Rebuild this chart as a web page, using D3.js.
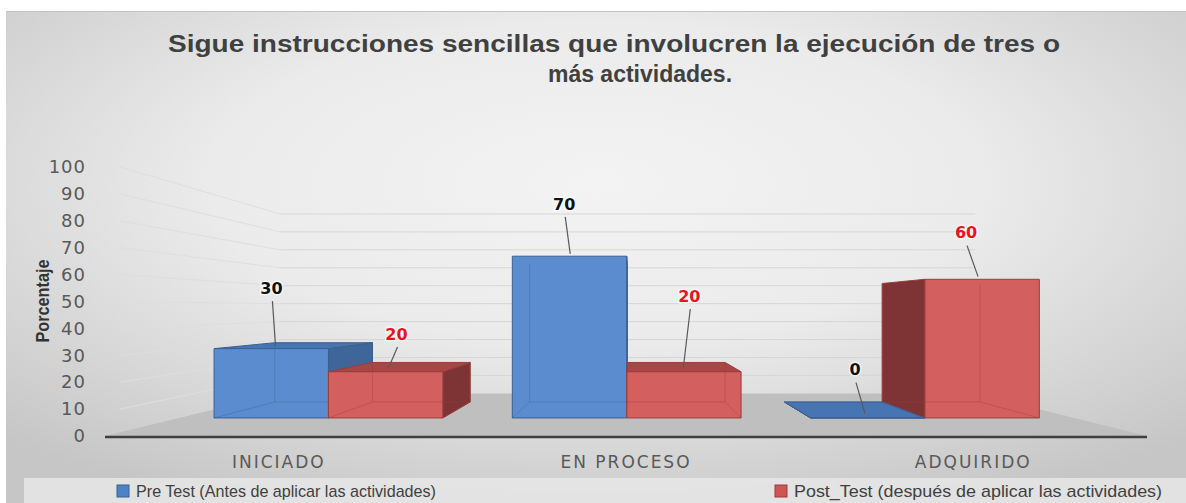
<!DOCTYPE html>
<html>
<head>
<meta charset="utf-8">
<script src="https://cdn.jsdelivr.net/npm/d3@7"></script>
<style>
  body{ margin: 0; background: #ffffff; }
  svg{ display: block; }
</style>
</head>
<body>
<div id="chart"></div>
<script>

// Chart data.
const categories = [ 'INICIADO', 'EN PROCESO', 'ADQUIRIDO' ];
const series_keys = [ 'pre', 'post' ];
const series_names = [ 'Pre Test (Antes de aplicar las actividades)', 'Post_Test (después de aplicar las actividades)' ];
const pre_test = [ 30, 70, 0 ];
const post_test = [ 20, 20, 60 ];
const y_ticks = [ 0, 10, 20, 30, 40, 50, 60, 70, 80, 90, 100 ];
const title_lines = [ 'Sigue instrucciones sencillas que involucren la ejecución de tres o', 'más actividades.' ];
const y_axis_title = 'Porcentaje';

const DEFAULTS = {
  width: 1186,
  height: 503,
  // Front edge of the floor, in screen pixels.
  floor_left: 105,
  floor_right: 1147,
  floor_y: 436,
  top_y: 167,
  // Single vanishing point of the perspective view.
  vanish: { x: 631, y: 308 },
  // Depths as a fraction of the way towards the vanishing point.
  bar_front: 0.141,
  bar_back: 0.266,
  wall_depth: 0.333,
  colors: {
    pre:  { front: '#5b8cd0', top: '#4774b3', side: '#3e6698', stroke: '#3b5f90', label: '#111111', key: '#4f81c7' },
    post: { front: '#d35f5f', top: '#a84646', side: '#7e3434', stroke: '#9a3d3d', label: '#e8141c', key: '#cf5555' }
  },
  // Where Excel left the data labels, relative to the top of each bar.
  label_offsets: {
    pre:  [ [ -4, -60 ], [ -6, -53 ], [ -10, -47 ] ],
    post: [ [ 8, -37 ], [ 6, -75 ], [ -12, -47 ] ]
  },
  legend_x: [ 117, 775 ],
  legend_y: 491,
  legend_text_width: [ 300, 368 ],
  font: '"DejaVu Sans", Verdana, sans-serif',
  title_font: '"Liberation Sans", Arial, sans-serif'
};


class Bar3dChart{

  constructor( elem_id, options ){
    this.elem_id = elem_id;
    this.settings = Object.assign( {}, DEFAULTS );
    this.settings = Object.assign( this.settings, options );
    var s = this.settings;

    // One entry per bar: category x series.
    var _this = this;
    this.bars = [];
    categories.forEach( function( c, i ){
      _this.bars.push( { category: c, index: i, key: 'pre', value: pre_test[i] } );
      _this.bars.push( { category: c, index: i, key: 'post', value: post_test[i] } );
    } );

    this.x_scale = d3.scaleBand()
      .domain( categories )
      .range( [ s.floor_left, s.floor_right ] )
      .paddingInner( 0.233 )
      .paddingOuter( 0.117 );
    this.x_sub = d3.scaleBand()
      .domain( series_keys )
      .range( [ 0, this.x_scale.bandwidth() ] );
    this.y_scale = d3.scaleLinear()
      .domain( [ 0, 100 ] )
      .range( [ s.floor_y, s.top_y ] );

    this.svg = d3.select( '#' + this.elem_id )
      .append( 'svg' )
        .attr( 'width', s.width )
        .attr( 'height', s.height );

    this.render_background();
    this.render_walls();
    this.render_axes();
    this.render_bars();
    this.render_data_labels();
    this.render_titles();
    this.render_legend();
  }


  // Move a front-plane point (x, value) a fraction t towards the vanishing point.
  project( x, v, t ){
    var vp = this.settings.vanish;
    var y = this.y_scale( v );
    return [ x + t * ( vp.x - x ), y + t * ( vp.y - y ) ];
  }


  render_background(){
    var defs = this.svg.append( 'defs' );
    var grad = defs.append( 'radialGradient' )
      .attr( 'id', 'bg_grad' )
      .attr( 'cx', '50%' ).attr( 'cy', '35%' ).attr( 'r', '72%' );
    grad.append( 'stop' ).attr( 'offset', '0%' ).attr( 'stop-color', '#f3f3f3' );
    grad.append( 'stop' ).attr( 'offset', '45%' ).attr( 'stop-color', '#ebebeb' );
    grad.append( 'stop' ).attr( 'offset', '100%' ).attr( 'stop-color', '#c6c6c6' );

    this.svg.append( 'rect' )
      .attr( 'x', 6 ).attr( 'y', 11 )
      .attr( 'width', this.settings.width - 6 )
      .attr( 'height', this.settings.height - 11 )
      .attr( 'fill', 'url(#bg_grad)' );
    this.svg.append( 'line' )
      .attr( 'x1', 6 ).attr( 'x2', this.settings.width )
      .attr( 'y1', 11.5 ).attr( 'y2', 11.5 )
      .attr( 'stroke', '#c4c4c4' );
  }


  render_walls(){
    var s = this.settings;
    var _this = this;
    var d = s.wall_depth;

    // Floor.
    var floor = [
      this.project( s.floor_left, 0, 0 ),
      this.project( s.floor_right, 0, 0 ),
      this.project( s.floor_right, 0, d ),
      this.project( s.floor_left, 0, d )
    ];
    this.svg.append( 'polygon' )
      .attr( 'points', floor.map( function( p ){ return p.join( ',' ) } ).join( ' ' ) )
      .attr( 'fill', '#bfbfbf' );

    var grid_values = y_ticks.filter( function( v ){ return v > 0 } );

    // Side wall gridlines: from the front left edge to the back wall.
    this.svg.append( 'g' )
      .selectAll( 'line' )
      .data( grid_values )
      .enter().append( 'line' )
        .attr( 'x1', function( v ){ return _this.project( s.floor_left + 15, v, 0 )[0] } )
        .attr( 'y1', function( v ){ return _this.project( s.floor_left + 15, v, 0 )[1] } )
        .attr( 'x2', function( v ){ return _this.project( s.floor_left, v, d )[0] } )
        .attr( 'y2', function( v ){ return _this.project( s.floor_left, v, d )[1] } )
        .attr( 'stroke', '#dedede' )
        .attr( 'stroke-width', 1 );

    // Back wall gridlines.
    this.svg.append( 'g' )
      .selectAll( 'line' )
      .data( grid_values )
      .enter().append( 'line' )
        .attr( 'x1', function( v ){ return _this.project( s.floor_left, v, d )[0] } )
        .attr( 'y1', function( v ){ return _this.project( s.floor_left, v, d )[1] } )
        .attr( 'x2', function( v ){ return _this.project( s.floor_right, v, d )[0] } )
        .attr( 'y2', function( v ){ return _this.project( s.floor_right, v, d )[1] } )
        .attr( 'stroke', '#d6d6d6' )
        .attr( 'stroke-width', 1 );
  }


  render_axes(){
    var s = this.settings;
    var _this = this;

    // Y axis, ticks only.
    var y_axis = this.svg.append( 'g' )
      .attr( 'transform', 'translate(86,0)' )
      .call( d3.axisLeft( this.y_scale ).tickValues( y_ticks ).tickSize( 0 ).tickPadding( 0 ) );
    y_axis.select( '.domain' ).remove();
    y_axis.selectAll( 'text' )
      .attr( 'fill', '#595959' )
      .attr( 'style', 'font-family:' + s.font + '; font-size:18px; letter-spacing:1px' );

    // Front edge of the floor.
    this.svg.append( 'line' )
      .attr( 'x1', s.floor_left ).attr( 'x2', s.floor_right )
      .attr( 'y1', s.floor_y + 1 ).attr( 'y2', s.floor_y + 1 )
      .attr( 'stroke', '#3f3f3f' )
      .attr( 'stroke-width', 2.5 );

    // Category labels.
    this.svg.append( 'g' )
      .selectAll( 'text' )
      .data( categories )
      .enter().append( 'text' )
        .attr( 'x', function( c ){ return _this.x_scale( c ) + _this.x_scale.bandwidth() / 2 } )
        .attr( 'y', s.floor_y + 32 )
        .attr( 'text-anchor', 'middle' )
        .attr( 'fill', '#595959' )
        .attr( 'style', 'font-family:' + s.font + '; font-size:17px; letter-spacing:2px' )
        .text( function( c ){ return c } );

    // Y axis title.
    this.svg.append( 'g' )
      .attr( 'transform', 'translate(49,301)' )
      .append( 'text' )
        .attr( 'transform', 'rotate(-90)' )
        .attr( 'text-anchor', 'middle' )
        .attr( 'textLength', 83 )
        .attr( 'lengthAdjust', 'spacingAndGlyphs' )
        .attr( 'fill', '#333333' )
        .attr( 'style', 'font-family:"Liberation Sans Narrow", "Liberation Sans", sans-serif; font-size:18px; font-weight:bold' )
        .text( y_axis_title );
  }


  // Polygons of one bar, in painting order.
  bar_faces( d ){
    var s = this.settings;
    var vp = s.vanish;
    var x0 = this.x_scale( d.category ) + this.x_sub( d.key );
    var x1 = x0 + this.x_sub.bandwidth();
    var t0 = s.bar_front, t1 = s.bar_back;
    var v = d.value;
    var p = this.project.bind( this );
    var c = s.colors[ d.key ];
    var faces = [];
    if( vp.x < x0 ){
      faces.push( { fill: c.side, pts: [ p( x0, 0, t0 ), p( x0, 0, t1 ), p( x0, v, t1 ), p( x0, v, t0 ) ] } );
    }
    if( vp.x > x1 ){
      faces.push( { fill: c.side, pts: [ p( x1, 0, t0 ), p( x1, 0, t1 ), p( x1, v, t1 ), p( x1, v, t0 ) ] } );
    }
    if( this.y_scale( v ) > vp.y ){
      faces.push( { fill: c.top, pts: [ p( x0, v, t0 ), p( x1, v, t0 ), p( x1, v, t1 ), p( x0, v, t1 ) ] } );
    }
    faces.push( { fill: c.front, pts: [ p( x0, 0, t0 ), p( x1, 0, t0 ), p( x1, v, t0 ), p( x0, v, t0 ) ] } );
    // Hidden back edges, shown faintly as in the semi transparent original.
    var edges = [
      [ p( x0, 0, t1 ), p( x0, v, t1 ) ],
      [ p( x1, 0, t1 ), p( x1, v, t1 ) ],
      [ p( x0, 0, t1 ), p( x1, 0, t1 ) ],
      [ p( x0, 0, t0 ), p( x0, 0, t1 ) ],
      [ p( x1, 0, t0 ), p( x1, 0, t1 ) ]
    ];
    return { faces: faces, edges: edges, stroke: c.stroke };
  }


  render_bars(){
    var _this = this;
    var vp = this.settings.vanish;

    // Paint the bars furthest from the vanishing point first.
    var ordered = this.bars.slice().sort( function( a, b ){
      var ca = _this.x_scale( a.category ) + _this.x_sub( a.key ) + _this.x_sub.bandwidth() / 2;
      var cb = _this.x_scale( b.category ) + _this.x_sub( b.key ) + _this.x_sub.bandwidth() / 2;
      return Math.abs( cb - vp.x ) - Math.abs( ca - vp.x );
    } );

    var groups = this.svg.append( 'g' )
      .selectAll( 'g' )
      .data( ordered )
      .enter().append( 'g' );

    groups.each( function( d ){
      var shape = _this.bar_faces( d );
      var g = d3.select( this );
      g.selectAll( 'polygon' )
        .data( shape.faces )
        .enter().append( 'polygon' )
          .attr( 'points', function( f ){ return f.pts.map( function( p ){ return p.join( ',' ) } ).join( ' ' ) } )
          .attr( 'fill', function( f ){ return f.fill } )
          .attr( 'stroke', shape.stroke )
          .attr( 'stroke-width', 1 )
          .attr( 'stroke-linejoin', 'round' );
      g.selectAll( 'line' )
        .data( shape.edges )
        .enter().append( 'line' )
          .attr( 'x1', function( e ){ return e[0][0] } )
          .attr( 'y1', function( e ){ return e[0][1] } )
          .attr( 'x2', function( e ){ return e[1][0] } )
          .attr( 'y2', function( e ){ return e[1][1] } )
          .attr( 'stroke', shape.stroke )
          .attr( 'stroke-opacity', 0.35 )
          .attr( 'stroke-width', 1 );
    } );
  }


  render_data_labels(){
    var s = this.settings;
    var _this = this;

    var anchors = this.bars.map( function( d ){
      var xc = _this.x_scale( d.category ) + _this.x_sub( d.key ) + _this.x_sub.bandwidth() / 2;
      var target = _this.project( xc, d.value, s.bar_front + 0.01 );
      var off = s.label_offsets[ d.key ][ d.index ];
      return { d: d, target: target, x: target[0] + off[0], y: target[1] + off[1] };
    } );

    var g = this.svg.append( 'g' );
    g.selectAll( 'line' )
      .data( anchors )
      .enter().append( 'line' )
        .attr( 'x1', function( a ){ return a.x + 1 } )
        .attr( 'y1', function( a ){ return a.y + 13 } )
        .attr( 'x2', function( a ){ return a.target[0] } )
        .attr( 'y2', function( a ){ return a.target[1] - 3 } )
        .attr( 'stroke', '#595959' )
        .attr( 'stroke-width', 1.2 );
    g.selectAll( 'text' )
      .data( anchors )
      .enter().append( 'text' )
        .attr( 'x', function( a ){ return a.x } )
        .attr( 'y', function( a ){ return a.y } )
        .attr( 'dy', '0.36em' )
        .attr( 'text-anchor', 'middle' )
        .attr( 'fill', function( a ){ return s.colors[ a.d.key ].label } )
        .attr( 'stroke', '#ffffff' )
        .attr( 'stroke-width', 3 )
        .attr( 'stroke-opacity', 0.6 )
        .attr( 'paint-order', 'stroke' )
        .attr( 'style', 'font-family:' + s.font + '; font-size:16px; font-weight:bold' )
        .text( function( a ){ return a.d.value } );
  }


  render_titles(){
    var s = this.settings;
    var title = this.svg.append( 'g' )
      .attr( 'fill', '#404040' )
      .attr( 'style', 'font-family:' + s.title_font + '; font-size:23px; font-weight:bold' );
    title.append( 'text' )
      .attr( 'x', 614 ).attr( 'y', 52 )
      .attr( 'text-anchor', 'middle' )
      .attr( 'textLength', 892 )
      .attr( 'lengthAdjust', 'spacingAndGlyphs' )
      .text( title_lines[0] );
    title.append( 'text' )
      .attr( 'x', 640 ).attr( 'y', 82 )
      .attr( 'text-anchor', 'middle' )
      .text( title_lines[1] );
  }


  render_legend(){
    var s = this.settings;

    this.svg.append( 'rect' )
      .attr( 'x', 24 ).attr( 'y', 478 )
      .attr( 'width', 1162 ).attr( 'height', 25 )
      .attr( 'fill', '#e9e9e9' )
      .attr( 'fill-opacity', 0.8 );

    var items = this.svg.append( 'g' )
      .selectAll( 'g' )
      .data( series_keys )
      .enter().append( 'g' )
        .attr( 'transform', function( k, i ){ return 'translate(' + s.legend_x[i] + ',' + s.legend_y + ')' } );
    items.append( 'rect' )
      .attr( 'x', 0 ).attr( 'y', -6 )
      .attr( 'width', 12 ).attr( 'height', 12 )
      .attr( 'fill', function( k ){ return s.colors[ k ].key } )
      .attr( 'stroke', function( k ){ return s.colors[ k ].stroke } );
    items.append( 'text' )
      .attr( 'x', 19 ).attr( 'y', 0 )
      .attr( 'dy', '0.36em' )
      .attr( 'textLength', function( k, i ){ return s.legend_text_width[i] } )
      .attr( 'lengthAdjust', 'spacingAndGlyphs' )
      .attr( 'fill', '#404040' )
      .attr( 'style', 'font-family:' + s.title_font + '; font-size:17px' )
      .text( function( k, i ){ return series_names[i] } );
  }

} // End of class Bar3dChart.


new Bar3dChart( 'chart', {} );

</script>
</body>
</html>
